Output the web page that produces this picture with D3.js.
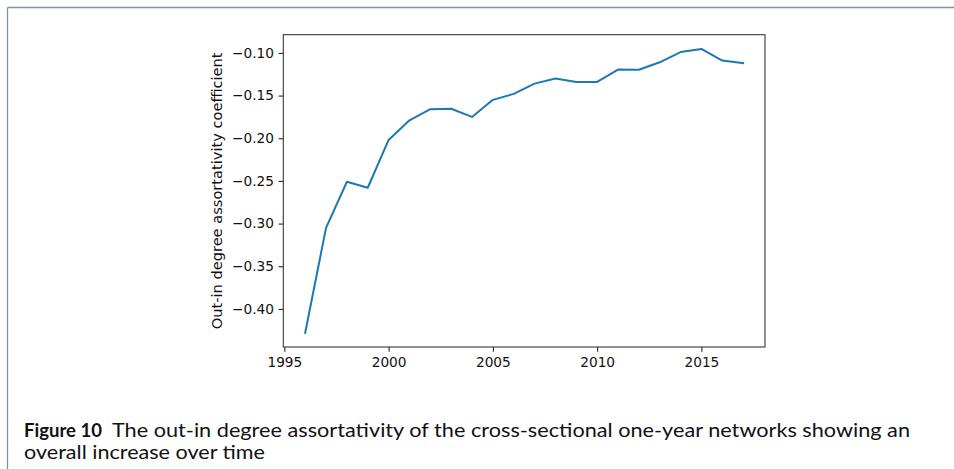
<!DOCTYPE html>
<html>
<head>
<meta charset="utf-8">
<script src="https://cdn.jsdelivr.net/npm/d3@7/dist/d3.min.js"></script>
<style>
  html, body { margin: 0; padding: 0; background: #fff; }
  svg { display: block; }
</style>
</head>
<body>
<svg id="chart" width="954" height="469"></svg>
<script>
const years = [1996,1997,1998,1999,2000,2001,2002,2003,2004,2005,2006,2007,2008,2009,2010,2011,2012,2013,2014,2015,2016,2017];
const assortativity = [-0.428,-0.305,-0.251,-0.258,-0.202,-0.179,-0.166,-0.1655,-0.175,-0.155,-0.148,-0.136,-0.130,-0.134,-0.134,-0.1195,-0.1198,-0.111,-0.099,-0.0953,-0.109,-0.112];
const xTickValues = [1995,2000,2005,2010,2015];
const yTickValues = [-0.40,-0.35,-0.30,-0.25,-0.20,-0.15,-0.10];
const yLabel = "Out-in degree assortativity coefficient";
const captionBold = "Figure 10";
const captionLine1 = "The out-in degree assortativity of the cross-sectional one-year networks showing an";
const captionLine2 = "overall increase over time";

const svg = d3.select("#chart");
const W = 954, H = 469;

// page frame (top and left rules)
svg.append("line").attr("x1", 7.5).attr("y1", 7.5).attr("x2", W).attr("y2", 7.5)
  .attr("stroke", "#7a93ad").attr("stroke-width", 1.3);
svg.append("line").attr("x1", 7.5).attr("y1", 7.5).attr("x2", 7.5).attr("y2", H)
  .attr("stroke", "#7a93ad").attr("stroke-width", 1.3);

const plot = { left: 283.3, right: 765, top: 34.7, bottom: 347 };

function padded(ext) {
  const r = ext[1] - ext[0];
  return [ext[0] - 0.05 * r, ext[1] + 0.05 * r];
}
const x = d3.scaleLinear().domain(padded(d3.extent(years))).range([plot.left, plot.right]);
const y = d3.scaleLinear().domain(padded(d3.extent(assortativity))).range([plot.bottom, plot.top]);

const font = "'DejaVu Sans', sans-serif";
const tickLen = 4.7, tickPad = 4.7, fs = 13.7;

// line
const line = d3.line().x((d, i) => x(years[i])).y(d => y(d));
svg.append("path").datum(assortativity)
  .attr("d", line)
  .attr("fill", "none")
  .attr("stroke", "#1f77b4")
  .attr("stroke-width", 2)
  .attr("stroke-linejoin", "round")
  .attr("stroke-linecap", "square");

// axes
const xAxis = d3.axisBottom(x).tickValues(xTickValues).tickFormat(d3.format("d"))
  .tickSize(tickLen).tickPadding(tickPad).tickSizeOuter(0);
const yAxis = d3.axisLeft(y).tickValues(yTickValues).tickFormat(d3.format(".2f"))
  .tickSize(tickLen).tickPadding(tickPad).tickSizeOuter(0);

const gx = svg.append("g").attr("transform", `translate(0,${plot.bottom})`).call(xAxis);
const gy = svg.append("g").attr("transform", `translate(${plot.left},0)`).call(yAxis);
[gx, gy].forEach(g => {
  g.select(".domain").remove();
  g.selectAll(".tick line").attr("stroke", "#222").attr("stroke-width", 1.07);
  g.selectAll(".tick text").attr("fill", "#111").style("font-family", font).style("font-size", fs + "px");
});
gx.selectAll(".tick text").attr("dy", "0.74em");

// spines
svg.append("rect")
  .attr("x", plot.left).attr("y", plot.top)
  .attr("width", plot.right - plot.left).attr("height", plot.bottom - plot.top)
  .attr("fill", "none").attr("stroke", "#333").attr("stroke-width", 1.07);

// y label
svg.append("text")
  .attr("transform", `translate(${222},${(plot.top + plot.bottom) / 2}) rotate(-90)`)
  .attr("text-anchor", "middle")
  .style("font-family", font).style("font-size", "14.6px").attr("fill", "#111")
  .text(yLabel);

// caption
const capFont = "Lato, 'Open Sans', sans-serif";
svg.append("text").attr("x", 24).attr("y", 437)
  .style("font-family", capFont).style("font-size", "19px").style("font-weight", "bold").attr("fill", "#111")
  .attr("textLength", 78).attr("lengthAdjust", "spacingAndGlyphs")
  .text(captionBold);
svg.append("text").attr("x", 112).attr("y", 437)
  .style("font-family", capFont).style("font-size", "19px").attr("fill", "#111")
  .attr("textLength", 798).attr("lengthAdjust", "spacingAndGlyphs")
  .text(captionLine1);
svg.append("text").attr("x", 24).attr("y", 459)
  .style("font-family", capFont).style("font-size", "19px").attr("fill", "#111")
  .attr("textLength", 241).attr("lengthAdjust", "spacingAndGlyphs")
  .text(captionLine2);
</script>
</body>
</html>
